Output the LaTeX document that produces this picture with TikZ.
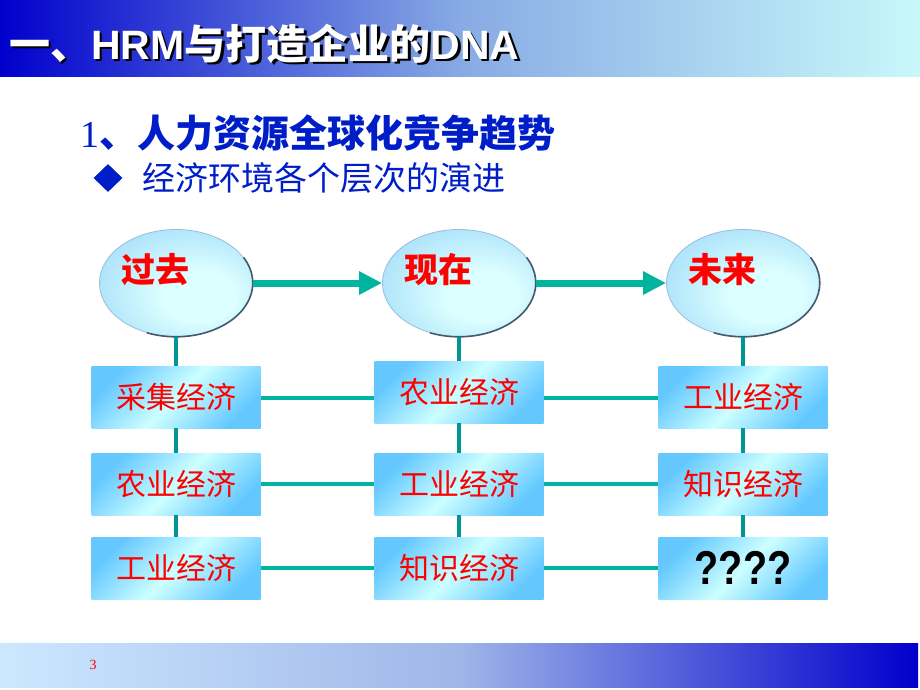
\documentclass[tikz,border=0pt]{standalone}
\usepackage{fontspec}
\usetikzlibrary{shapes.geometric,arrows.meta}
\newfontfamily\cjk{Noto Sans CJK SC}
\newfontfamily\lsans{Liberation Sans}
\newfontfamily\lserif{Liberation Serif}
\definecolor{titleL}{RGB}{0,0,204}
\definecolor{titleM}{RGB}{135,170,228}
\definecolor{titleR}{RGB}{200,248,250}
\definecolor{footL}{RGB}{204,232,255}
\definecolor{footM}{RGB}{160,182,232}
\definecolor{footR}{RGB}{0,0,204}
\definecolor{subblue}{RGB}{0,30,200}
\definecolor{hteal}{RGB}{0,180,160}
\definecolor{vteal}{RGB}{0,150,150}
\definecolor{boxB}{RGB}{100,200,255}
\definecolor{boxC}{RGB}{205,255,255}
\definecolor{ehi}{RGB}{220,255,255}
\definecolor{emid}{RGB}{170,225,250}
\definecolor{eblue}{RGB}{110,190,245}
\definecolor{eborder}{RGB}{150,190,220}
\definecolor{edark}{RGB}{70,90,110}
\definecolor{tred}{RGB}{255,0,0}
\pgfdeclareradialshading{ellshade}{\pgfpoint{10bp}{-8bp}}{color(0bp)=(ehi); color(12bp)=(ehi); color(32bp)=(emid); color(50bp)=(eblue)}
\newcommand{\titletext}{{\cjk\bfseries 一、}{\lsans\bfseries HRM}{\cjk\bfseries 与打造企业的}{\lsans\bfseries DNA}}
\tikzset{
  ell/.style={ellipse, minimum width=153pt, minimum height=107pt, inner sep=0pt,
    shade, shading=ellshade, draw=eborder, line width=0.8pt},
  elltext/.style={inner sep=0pt, text=tred, font=\cjk\bfseries\fontsize{34}{34}\selectfont},
  ecbox/.style={rectangle, minimum width=169pt, minimum height=62pt, inner sep=0pt,
    top color=boxB, bottom color=boxB, middle color=boxC, shading angle=45,
    text=tred, font=\cjk\fontsize{30}{30}\selectfont},
  vline/.style={draw=vteal, line width=3.5pt},
  hline/.style={draw=hteal, line width=4.5pt},
  arr/.style={draw=hteal, line width=7pt, -{Triangle[length=23pt,width=22pt]}},
  darkedge/.style={draw=edark, line width=1.6pt, line cap=round},
  plain/.style={inner sep=0pt}
}
\begin{document}
\begin{tikzpicture}[x=1pt,y=-1pt]
\useasboundingbox (0,0) rectangle (920,690);
% title bar
\shade[left color=titleL, right color=titleR, middle color=titleM] (0,0) rectangle (920,77);
\node[plain, anchor=west, text=white, font=\fontsize{41}{41}\selectfont] (title) at (9,45)
  {\rlap{\hspace{2.5pt}\raisebox{-2.5pt}{\color{black}\titletext}}\titletext};
% footer
\shade[left color=footL, right color=footR, middle color=footM] (0,643) rectangle (918,687);
\node[plain, text=tred, font=\lserif\fontsize{14}{14}\selectfont] (pg) at (93,665) {3};
% subtitles
\node[plain, anchor=west, text=subblue, font=\fontsize{38}{38}\selectfont] (sub1) at (80,133)
  {{\lserif 1}{\cjk\bfseries 、人力资源全球化竞争趋势}};
\node[diamond, fill=subblue, minimum width=29pt, minimum height=28pt, inner sep=0pt] (bul) at (108,178) {};
\node[plain, anchor=west, text=subblue, font=\cjk\fontsize{33}{33}\selectfont] (sub2) at (142,178) {经济环境各个层次的演进};
% ellipses
\node[ell] (past) at (176,283) {};
\node[ell] (now) at (459,283) {};
\node[ell] (fut) at (743,283) {};
\foreach \e in {past,now,fut}{
  \draw[darkedge] (\e.center) ++(28:76.8pt and 53.8pt) arc[start angle=28, end angle=-112, x radius=76.8pt, y radius=53.8pt];
}
\node[elltext] (pastt) at (155,270) {过去};
\node[elltext] (nowt) at (438,270) {现在};
\node[elltext] (futt) at (722,270) {未来};
% boxes
\node[ecbox] (b11) at (176,397) {采集经济};
\node[ecbox] (b12) at (176,484) {农业经济};
\node[ecbox] (b13) at (176,568) {工业经济};
\node[ecbox] (b21) at (459,392) {农业经济};
\node[ecbox] (b22) at (459,484) {工业经济};
\node[ecbox] (b23) at (459,568) {知识经济};
\node[ecbox] (b31) at (743,397) {工业经济};
\node[ecbox] (b32) at (743,484) {知识经济};
\node[ecbox, text=black, font=\lsans\bfseries\fontsize{44}{44}\selectfont] (b33) at (743,568) {\scalebox{0.9}[1.08]{????}};
% arrows
\draw[arr] (past.east) -- (now.west);
\draw[arr] (now.east) -- (fut.west);
% vertical connectors
\draw[vline] (past.south) -- (b11.north);
\draw[vline] (b11.south) -- (b12.north);
\draw[vline] (b12.south) -- (b13.north);
\draw[vline] (now.south) -- (b21.north);
\draw[vline] (b21.south) -- (b22.north);
\draw[vline] (b22.south) -- (b23.north);
\draw[vline] (fut.south) -- (b31.north);
\draw[vline] (b31.south) -- (b32.north);
\draw[vline] (b32.south) -- (b33.north);
% horizontal connectors
\draw[hline] ([yshift=-1pt]b11.east) -- ([yshift=-1pt]b11.east -| b21.west);
\draw[hline] ([yshift=-1pt]b11.east -| b21.east) -- ([yshift=-1pt]b31.west);
\draw[hline] (b12.east) -- (b22.west);
\draw[hline] (b22.east) -- (b32.west);
\draw[hline] (b13.east) -- (b23.west);
\draw[hline] (b23.east) -- (b33.west);
\end{tikzpicture}
\end{document}
